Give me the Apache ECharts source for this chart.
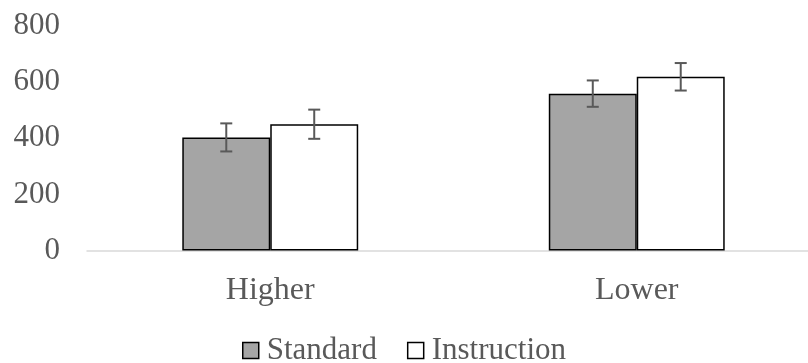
<!DOCTYPE html>
<html><head><meta charset="utf-8">
<script src="https://cdn.jsdelivr.net/npm/echarts@6/dist/echarts.min.js"></script>
<style>html,body{margin:0;padding:0;background:#fff}#c{width:808px;height:363px}</style>
</head><body><div id="c"></div>
<script>
var categories = ['Higher', 'Lower'];
var standardValues = [403, 559];
var instructionValues = [450, 619];
var standardErr = [50, 47];
var instructionErr = [52, 49];
var yTicks = [0, 200, 400, 600, 800];

var FONT = '"Liberation Serif", "Times New Roman", serif';
var chart = echarts.init(document.getElementById('c'));

function errSeries(name, values, errs, side) {
  return {
    type: 'custom', name: name + ' err', silent: true, z: 10,
    renderItem: function (params, api) {
      var i = api.value(0);
      var band = api.size([1, 0])[0];
      var xc = api.coord([i, 0])[0] + side * band * 0.12;
      var top = api.coord([i, api.value(1) + api.value(2)])[1];
      var bot = api.coord([i, api.value(1) - api.value(2)])[1];
      var cap = 6;
      var st = { stroke: '#595959', lineWidth: 2 };
      return { type: 'group', children: [
        { type: 'line', shape: { x1: xc, y1: top, x2: xc, y2: bot }, style: st },
        { type: 'line', shape: { x1: xc - cap, y1: top, x2: xc + cap, y2: top }, style: st },
        { type: 'line', shape: { x1: xc - cap, y1: bot, x2: xc + cap, y2: bot }, style: st }
      ]};
    },
    data: values.map(function (v, i) { return [i, v, errs[i]]; })
  };
}

chart.setOption({
  animation: false,
  textStyle: { fontFamily: FONT },
  grid: { left: 87, top: 26, width: 733, height: 224.5, containLabel: false, outerBoundsMode: 'none' },
  legend: {
    top: 330, left: 'center', icon: 'rect', itemWidth: 16, itemHeight: 16, itemGap: 30,
    data: ['Standard', 'Instruction'],
    itemStyle: { borderColor: '#000', borderWidth: 1.5 },
    textStyle: { fontFamily: FONT, fontSize: 31, color: '#595959', padding: [0, 0, 0, 3] }
  },
  xAxis: {
    type: 'category', data: categories,
    axisLine: { lineStyle: { color: '#d9d9d9', width: 1.5 } },
    axisTick: { show: false },
    axisLabel: { fontFamily: FONT, fontSize: 32, color: '#595959', margin: 24 }
  },
  yAxis: {
    type: 'value', min: yTicks[0], max: yTicks[yTicks.length - 1], interval: 200,
    axisLine: { show: false }, axisTick: { show: false }, splitLine: { show: false },
    axisLabel: { fontFamily: FONT, fontSize: 31, color: '#595959', margin: 27 }
  },
  series: [
    { name: 'Standard', type: 'bar', data: standardValues, barGap: '0%', barCategoryGap: '52%',
      itemStyle: { color: '#a5a5a5', borderColor: '#000', borderWidth: 1.5 } },
    { name: 'Instruction', type: 'bar', data: instructionValues,
      itemStyle: { color: '#ffffff', borderColor: '#000', borderWidth: 1.5 } },
    errSeries('Standard', standardValues, standardErr, -1),
    errSeries('Instruction', instructionValues, instructionErr, 1)
  ]
});
</script></body></html>
